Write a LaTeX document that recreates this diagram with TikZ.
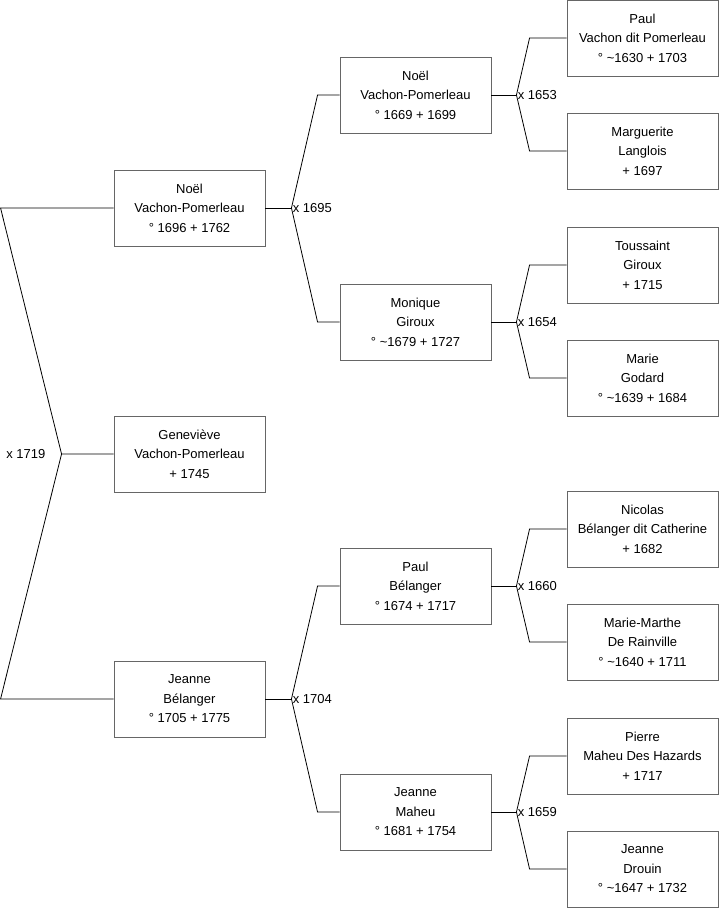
\documentclass[tikz,border=0pt]{standalone}
\usepackage{fontspec}
\setmainfont{Liberation Sans}
\usetikzlibrary{positioning}

\begin{document}
\begin{tikzpicture}[x=1pt,y=-1pt,
    person/.style={draw=black!60,line width=0.9pt,minimum width=151pt,
        minimum height=76pt,inner sep=0pt,align=center,
        font=\fontsize{13}{19.5}\selectfont},
    link/.style={line width=0.8pt},
    year/.style={inner sep=1pt,font=\fontsize{13}{15}\selectfont}]
\useasboundingbox (0,0) rectangle (719,908);
% children
\node[person] (noelA) at (189.5,208) {Noël\\Vachon-Pomerleau\\° 1696 + 1762};
\node[person] (genevieve) at (189.5,454) {Geneviève\\Vachon-Pomerleau\\+ 1745};
\node[person] (jeanneB) at (189.5,699) {Jeanne\\Bélanger\\° 1705 + 1775};
% parents
\foreach \n/\y/\t in {noelB/95/{Noël\\Vachon-Pomerleau\\° 1669 + 1699},
    moniqueG/322/{Monique\\Giroux\\° \textasciitilde1679 + 1727},
    paulB/586/{Paul\\Bélanger\\° 1674 + 1717},
    jeanneM/812/{Jeanne\\Maheu\\° 1681 + 1754}}
    \node[person] (\n) at (415.5,\y) {\t};
% grandparents
\foreach \n/\y/\t in {paulV/38/{Paul\\Vachon dit Pomerleau\\° \textasciitilde1630 + 1703},
    margueriteL/151/{Marguerite\\Langlois\\+ 1697},
    toussaintG/265/{Toussaint\\Giroux\\+ 1715},
    marieG/378/{Marie\\Godard\\° \textasciitilde1639 + 1684},
    nicolasB/529/{Nicolas\\Bélanger dit Catherine\\+ 1682},
    marieMarthe/642/{Marie-Marthe\\De Rainville\\° \textasciitilde1640 + 1711},
    pierreM/756/{Pierre\\Maheu Des Hazards\\+ 1717},
    jeanneD/869/{Jeanne\\Drouin\\° \textasciitilde1647 + 1732}}
    \node[person] (\n) at (642.5,\y) {\t};
% marriages
\foreach \c/\f/\m/\yr/\a/\b in {noelA/noelB/moniqueG/1695/26/22,
    jeanneB/paulB/jeanneM/1704/26/22,
    noelB/paulV/margueriteL/1653/25/37,
    moniqueG/toussaintG/marieG/1654/25/37,
    paulB/nicolasB/marieMarthe/1660/25/37,
    jeanneM/pierreM/jeanneD/1659/25/37}
{
    \draw[link] (\c.east) -- ++(\a,0) coordinate (x\yr)
        node[right,year] {x \yr};
    \draw[link] (\f.west) -- ++(-\b,0) -- (x\yr) --
        ([xshift=-\b pt]\m.west) -- (\m.west);
}
\coordinate (x1719) at ([xshift=-52pt]genevieve.west);
\draw[link] (genevieve.west) -- (x1719) --
    ([xshift=-113pt]noelA.west) -- (noelA.west);
\draw[link] (x1719) -- ([xshift=-113pt]jeanneB.west) -- (jeanneB.west);
\node[left,year] (m1719) at ([xshift=-15pt]x1719) {x 1719};
\end{tikzpicture}
\end{document}
